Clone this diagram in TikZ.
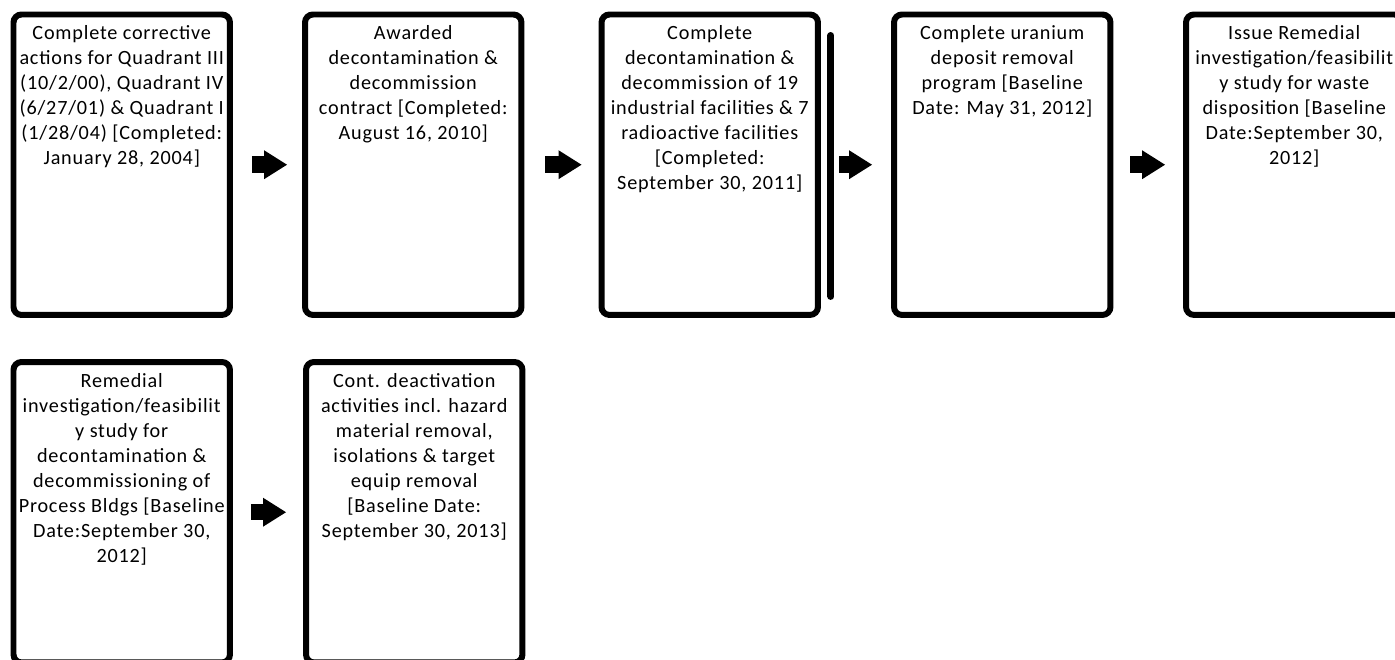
\documentclass[tikz,border=0pt]{standalone}
\usepackage{fontspec}
\setmainfont{Carlito}[LetterSpace=4]
\usetikzlibrary{arrows.meta,calc}
\begin{document}
\begin{tikzpicture}[x=0.02cm, y=-0.02cm,
		stepbox/.style={draw, line width=0.12cm, rounded corners=0.16cm, minimum width=4.33cm, minimum height=6.01cm, inner sep=0pt, outer sep=0pt, anchor=north west},
		boxtext/.style={anchor=north, align=center, inner sep=0pt, font=\fontsize{11.5}{14.2}\selectfont},
		flowarrow/.style={line width=0.33cm, -{Triangle[width=0.58cm, length=0.46cm, line width=0pt]}}]
		\useasboundingbox (0, 0) rectangle (1395, 659);
		\clip (0, 0) rectangle (1395, 659);
		% Obere Reihe
		\node [stepbox] (b1) at (13.5, 14.5) {};
		\node [stepbox] (b2) at (305, 14.5) {};
		\node [stepbox] (b3) at (601.5, 14.5) {};
		\node [stepbox] (b4) at (894, 14.5) {};
		\node [stepbox] (b5) at (1186, 14.5) {};
		% Untere Reihe
		\node [stepbox] (b6) at (13.5, 362) {};
		\node [stepbox] (b7) at (306, 362) {};
		% Texte
		\node [boxtext] (t1) at ($(b1.north)+(0, 11)$) {Complete corrective\\actions for Quadrant III\\(10/2/00), Quadrant IV\\(6/27/01) \& Quadrant I\\(1/28/04) [Completed:\\January 28, 2004]};
		\node [boxtext] (t2) at ($(b2.north)+(0, 11)$) {Awarded\\decontamination \&\\decommission\\contract [Completed:\\August 16, 2010]};
		\node [boxtext] (t3) at ($(b3.north)+(0, 11)$) {Complete\\decontamination \&\\decommission of 19\\industrial facilities \& 7\\radioactive facilities\\{[}Completed:\\September 30, 2011]};
		\node [boxtext] (t4) at ($(b4.north)+(0, 11)$) {Complete uranium\\deposit removal\\program [Baseline\\Date: May 31, 2012]};
		\node [boxtext] (t5) at ($(b5.north)+(0, 11)$) {Issue Remedial\\investigation/feasibilit\\y study for waste\\disposition [Baseline\\Date:September 30,\\2012]};
		\node [boxtext] (t6) at ($(b6.north)+(0, 11)$) {Remedial\\investigation/feasibilit\\y study for\\decontamination \&\\decommissioning of\\Process Bldgs [Baseline\\Date:September 30,\\2012]};
		\node [boxtext] (t7) at ($(b7.north)+(0, 11)$) {Cont. deactivation\\activities incl. hazard\\material removal,\\isolations \& target\\equip removal\\{[}Baseline Date:\\September 30, 2013]};
		% Balken
		\draw [line width=0.14cm, line cap=round] ($(b3.north east)+(13, 21)$) -- ($(b3.south east)+(13, -18.5)$);
		% Pfeile
		\draw [flowarrow] ($(b1.east)+(22, 0)$) -- ($(b2.west)+(-18, 0)$);
		\draw [flowarrow] ($(b2.east)+(24, 0)$) -- ($(b3.west)+(-20, 0)$);
		\draw [flowarrow] ($(b3.east)+(21.5, 0)$) -- ($(b4.west)+(-22, 0)$);
		\draw [flowarrow] ($(b4.east)+(20, 0)$) -- ($(b5.west)+(-21, 0)$);
		\draw [flowarrow] ($(b6.east)+(21, 0)$) -- ($(b7.west)+(-20, 0)$);
	\end{tikzpicture}
\end{document}
